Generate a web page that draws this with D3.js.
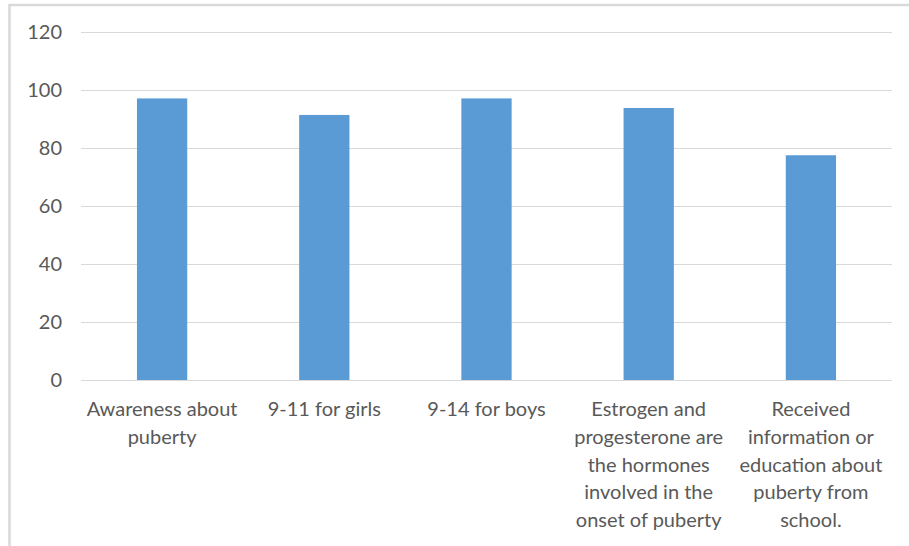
<!DOCTYPE html>
<html>
<head>
<meta charset="utf-8">
<script src="https://cdn.jsdelivr.net/npm/d3@7"></script>
<style>
  html, body { margin: 0; padding: 0; background: #fff; }
  svg { display: block; }
</style>
</head>
<body>
<div id="chart"></div>
<script>
// categories (each label already split into its lines, like the original)
const categories = [
  "Awareness about puberty",
  "9-11 for girls",
  "9-14 for boys",
  "Estrogen and progesterone are the hormones involved in the onset of puberty",
  "Received information or education about puberty from school."
];
const categoryLines = [
  ["Awareness about", "puberty"],
  ["9-11 for girls"],
  ["9-14 for boys"],
  ["Estrogen and", "progesterone are", "the hormones", "involved in the", "onset of puberty"],
  ["Received", "information or", "education about", "puberty from", "school."]
];
const values = [97.1, 91.4, 97.1, 93.8, 77.5];
const yTicks = [0, 20, 40, 60, 80, 100, 120];

const width = 909, height = 546;
const margin = {left: 81, right: 17, top: 32, bottom: 166};

const svg = d3.select("#chart")
  .append("svg")
  .attr("width", width)
  .attr("height", height);

// chart frame (cut off at right and bottom in the original)
svg.append("rect")
  .attr("x", 9.5)
  .attr("y", 5)
  .attr("width", width + 20)
  .attr("height", height + 20)
  .attr("fill", "none")
  .attr("stroke", "#d9d9d9")
  .attr("stroke-width", 2.5);

const x = d3.scaleBand()
  .domain(categories)
  .range([margin.left, width - margin.right])
  .paddingInner(0.69)
  .paddingOuter(0.345);

const y = d3.scaleLinear()
  .domain([0, 120])
  .range([height - margin.bottom, margin.top]);

// gridlines
const yAxis = svg.append("g")
  .attr("transform", `translate(${margin.left},0)`)
  .call(d3.axisLeft(y)
    .tickValues(yTicks)
    .tickSize(-(width - margin.left - margin.right))
    .tickPadding(19));

yAxis.select(".domain").remove();
yAxis.selectAll(".tick line")
  .attr("stroke", "#d9d9d9")
  .attr("stroke-width", 1.2);
yAxis.selectAll(".tick text")
  .attr("fill", "#595959")
  .style("font-family", "Lato, 'Open Sans', sans-serif")
  .style("font-size", "20px");

// bars
svg.append("g")
  .selectAll("rect")
  .data(values)
  .enter()
  .append("rect")
  .attr("x", (d, i) => x(categories[i]))
  .attr("y", d => y(d))
  .attr("width", x.bandwidth())
  .attr("height", d => y(0) - y(d))
  .attr("fill", "#5b9bd5");

// category labels
const labels = svg.append("g")
  .selectAll("text")
  .data(categoryLines)
  .enter()
  .append("text")
  .attr("x", (d, i) => x(categories[i]) + x.bandwidth() / 2)
  .attr("y", y(0) + 36)
  .attr("text-anchor", "middle")
  .attr("fill", "#595959")
  .style("font-family", "Lato, 'Open Sans', sans-serif")
  .style("font-size", "20px");

labels.selectAll("tspan")
  .data(d => d)
  .enter()
  .append("tspan")
  .attr("x", function () { return d3.select(this.parentNode).attr("x"); })
  .attr("dy", (d, i) => i === 0 ? 0 : 27.8)
  .text(d => d);
</script>
</body>
</html>
